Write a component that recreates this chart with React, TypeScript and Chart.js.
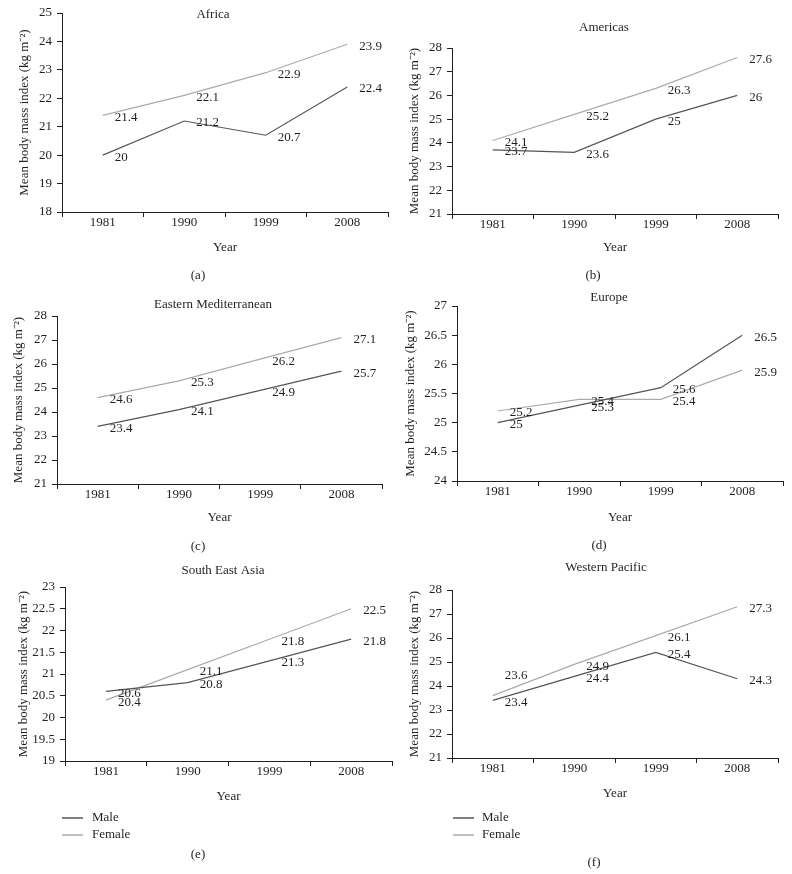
import React, { useEffect, useRef } from "react";
import { Chart, registerables } from "chart.js";

Chart.register(...registerables);

// ---------- data ----------
const years = ["1981", "1990", "1999", "2008"];
const seriesNames = ["Male", "Female"];

const africaMale = [20, 21.2, 20.7, 22.4];
const africaFemale = [21.4, 22.1, 22.9, 23.9];
const americasMale = [23.7, 23.6, 25, 26];
const americasFemale = [24.1, 25.2, 26.3, 27.6];
const eastMedMale = [23.4, 24.1, 24.9, 25.7];
const eastMedFemale = [24.6, 25.3, 26.2, 27.1];
const europeMale = [25, 25.3, 25.6, 26.5];
const europeFemale = [25.2, 25.4, 25.4, 25.9];
const seAsiaMale = [20.6, 20.8, 21.3, 21.8];
const seAsiaFemale = [20.4, 21.1, 21.8, 22.5];
const westPacMale = [23.4, 24.4, 25.4, 24.3];
const westPacFemale = [23.6, 24.9, 26.1, 27.3];

// y-axis ranges [min, max, step]
const africaRange = [18, 25, 1];
const americasRange = [21, 28, 1];
const eastMedRange = [21, 28, 1];
const europeRange = [24, 27, 0.5];
const seAsiaRange = [19, 23, 0.5];
const westPacRange = [21, 28, 1];

const yTitle = "Mean body mass index (kg m\u207B\u00B2)";
const xTitle = "Year";

// ---------- styles ----------
const FONT = "'Liberation Serif', 'Times New Roman', serif";
const FONT_SIZE = 13;
const TEXT = "#231f20";
const MALE_COLOR = "#555555";
const FEMALE_COLOR = "#ababab";

type PanelSpec = {
  title: string;
  caption: string;
  male: number[];
  female: number[];
  range: number[];
  canvas: [number, number, number, number];
  plot: { l: number; r: number; t: number; b: number };
  yTitleX: number;
  yearY: number;
  titlePos: [number, number];
  capPos: [number, number];
  legend?: { x1: number; x2: number; tx: number; y: number[] };
  nudges?: { d: number; i: number; dy: number }[];
};

const panels: PanelSpec[] = [
  {
    title: "Africa", caption: "(a)", male: africaMale, female: africaFemale, range: africaRange,
    canvas: [0, 0, 396, 286], plot: { l: 62, r: 388, t: 13, b: 212 },
    yTitleX: 25, yearY: 248, titlePos: [213, 15], capPos: [198, 276],
  },
  {
    title: "Americas", caption: "(b)", male: americasMale, female: americasFemale, range: americasRange,
    canvas: [396, 0, 396, 286], plot: { l: 452, r: 778, t: 48, b: 214 },
    yTitleX: 415, yearY: 248, titlePos: [604, 28], capPos: [593, 276],
  },
  {
    title: "Eastern Mediterranean", caption: "(c)", male: eastMedMale, female: eastMedFemale, range: eastMedRange,
    canvas: [0, 286, 396, 270], plot: { l: 57, r: 382, t: 316, b: 484 },
    yTitleX: 19, yearY: 518, titlePos: [213, 305], capPos: [198, 547],
  },
  {
    title: "Europe", caption: "(d)", male: europeMale, female: europeFemale, range: europeRange,
    canvas: [396, 286, 396, 270], plot: { l: 457, r: 783, t: 306, b: 481 },
    yTitleX: 411, yearY: 518, titlePos: [609, 298], capPos: [599, 546],
  },
  {
    title: "South East Asia", caption: "(e)", male: seAsiaMale, female: seAsiaFemale, range: seAsiaRange,
    canvas: [0, 556, 396, 318], plot: { l: 65, r: 392, t: 587, b: 761 },
    yTitleX: 24, yearY: 797, titlePos: [223, 571], capPos: [198, 855],
    legend: { x1: 62, x2: 83, tx: 92, y: [818, 835] },
  },
  {
    title: "Western Pacific", caption: "(f)", male: westPacMale, female: westPacFemale, range: westPacRange,
    canvas: [396, 556, 396, 318], plot: { l: 452, r: 778, t: 590, b: 758 },
    yTitleX: 415, yearY: 794, titlePos: [606, 568], capPos: [594, 863],
    legend: { x1: 453, x2: 474, tx: 482, y: [818, 835] },
    nudges: [{ d: 1, i: 0, dy: -22 }],
  },
];

const decorPlugin = {
  id: "decor",
  afterDatasetsDraw(chart: any, _args: any, opts: any) {
    const ctx = chart.ctx;
    ctx.save();
    ctx.font = `${FONT_SIZE}px ${FONT}`;
    ctx.fillStyle = TEXT;
    ctx.textBaseline = "middle";
    ctx.textAlign = "left";
    chart.data.datasets.forEach((ds: any, di: number) => {
      const meta = chart.getDatasetMeta(di);
      meta.data.forEach((pt: any, i: number) => {
        const n = (opts.nudges || []).find((q: any) => q.d === di && q.i === i);
        const dy = n ? n.dy : 0;
        ctx.fillText(String(ds.data[i]), pt.x + 12, pt.y + 2 + dy);
      });
    });
    ctx.textAlign = "center";
    ctx.fillText(opts.title, opts.titleX, opts.titleY);
    ctx.fillText(opts.caption, opts.capX, opts.capY);
    if (opts.legend) {
      chart.data.datasets.forEach((ds: any, di: number) => {
        const y = opts.legend.y[di];
        ctx.strokeStyle = ds.borderColor;
        ctx.lineWidth = 1.5;
        ctx.beginPath();
        ctx.moveTo(opts.legend.x1, y);
        ctx.lineTo(opts.legend.x2, y);
        ctx.stroke();
        ctx.textAlign = "left";
        ctx.fillText(ds.label, opts.legend.tx, y);
      });
    }
    ctx.restore();
  },
};

function Panel({ spec }: { spec: PanelSpec }) {
  const ref = useRef<HTMLCanvasElement>(null);
  useEffect(() => {
    const [cx, cy, cw, ch] = spec.canvas;
    const { l, r, t, b } = spec.plot;
    const titleHalf = (FONT_SIZE * 1.2) / 2;
    const padLeft = spec.yTitleX - titleHalf - cx;
    const yWidth = l - (spec.yTitleX - titleHalf);
    const padTop = t - cy;
    const padRight = cx + cw - r;
    const xHeight = spec.yearY + titleHalf - b;
    const padBottom = cy + ch - (spec.yearY + titleHalf);
    const font = { family: FONT, size: FONT_SIZE, lineHeight: 1.2 };
    const chart = new Chart(ref.current as HTMLCanvasElement, {
      type: "line",
      data: {
        labels: years,
        datasets: [
          { label: seriesNames[0], data: spec.male, borderColor: MALE_COLOR, backgroundColor: MALE_COLOR, borderWidth: 1.2, pointRadius: 0, tension: 0, fill: false },
          { label: seriesNames[1], data: spec.female, borderColor: FEMALE_COLOR, backgroundColor: FEMALE_COLOR, borderWidth: 1.2, pointRadius: 0, tension: 0, fill: false },
        ],
      },
      options: {
        responsive: false,
        animation: false,
        devicePixelRatio: 1,
        layout: { padding: { left: padLeft, right: padRight, top: padTop, bottom: padBottom } },
        plugins: {
          legend: { display: false },
          tooltip: { enabled: false },
          title: { display: false },
          decor: {
            title: spec.title, titleX: spec.titlePos[0] - cx, titleY: spec.titlePos[1] - cy,
            caption: spec.caption, capX: spec.capPos[0] - cx, capY: spec.capPos[1] - cy,
            legend: spec.legend ? { x1: spec.legend.x1 - cx, x2: spec.legend.x2 - cx, tx: spec.legend.tx - cx, y: spec.legend.y.map((v) => v - cy) } : null,
            nudges: spec.nudges || [],
          },
        } as any,
        scales: {
          x: {
            type: "category",
            offset: true,
            grid: { display: true, drawOnChartArea: false, drawTicks: true, tickLength: 5, offset: true, color: TEXT },
            border: { display: true, color: TEXT, width: 1 },
            ticks: { font, color: TEXT, padding: -2, maxRotation: 0 },
            title: { display: true, text: xTitle, font, color: TEXT, padding: 0 },
            afterFit: (s: any) => { s.height = xHeight; },
          },
          y: {
            min: spec.range[0],
            max: spec.range[1],
            grid: { display: true, drawOnChartArea: false, drawTicks: true, tickLength: 5, color: TEXT },
            border: { display: true, color: TEXT, width: 1 },
            ticks: {
              stepSize: spec.range[2], font, color: TEXT, padding: 5,
              callback: (v: any) => String(Math.round(Number(v) * 10) / 10),
            },
            title: { display: true, text: yTitle, font, color: TEXT, padding: 0 },
            afterFit: (s: any) => { s.width = yWidth; },
          },
        },
      } as any,
      plugins: [decorPlugin],
    });
    return () => chart.destroy();
  }, [spec]);
  const [cx, cy, cw, ch] = spec.canvas;
  return (
    <canvas
      ref={ref}
      width={cw}
      height={ch}
      style={{ position: "absolute", left: cx, top: cy, width: cw, height: ch }}
    />
  );
}

export default function App() {
  return (
    <div style={{ position: "absolute", left: 0, top: 0, width: 792, height: 874, background: "#ffffff", overflow: "hidden" }}>
      {panels.map((p) => (
        <Panel key={p.caption} spec={p} />
      ))}
    </div>
  );
}
